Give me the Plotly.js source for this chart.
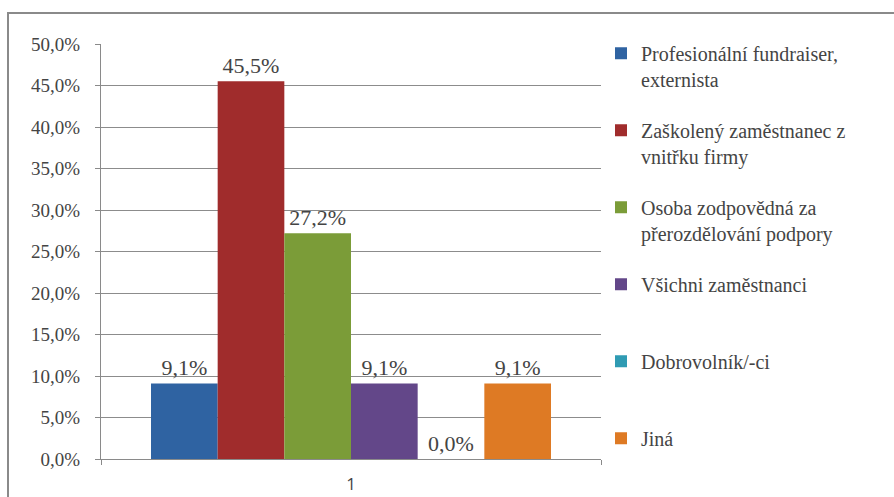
<!DOCTYPE html>
<html>
<head>
<meta charset="utf-8">
<script src="https://cdn.plot.ly/plotly-3.0.1.min.js"></script>
<style>
  html, body { margin: 0; padding: 0; background: #ffffff; overflow: hidden; }
  #wrap { position: relative; width: 894px; height: 497px; }
  #chart { width: 894px; height: 497px; }
  #frame { position: absolute; left: 7px; top: 12px; width: 900px; height: 500px;
           border: 2px solid #8a8a8a; pointer-events: none; box-sizing: border-box; }
</style>
</head>
<body>
<div id="wrap">
  <div id="chart"></div>
  <div id="frame"></div>
</div>
<script>
const categories = ['1'];
const seriesNames = [
  'Profesionální fundraiser,<br>externista',
  'Zaškolený zaměstnanec z<br>vnitřku firmy',
  'Osoba zodpovědná za<br>přerozdělování podpory',
  'Všichni zaměstnanci<br>\u00a0',
  'Dobrovolník/-ci<br>\u00a0',
  'Jiná<br>\u00a0'
];
const seriesValues = [9.1, 45.5, 27.2, 9.1, 0.0, 9.1];
const yTickStep = 5;

const seriesColors = ['#2f63a2', '#a02c2c', '#7b9c38', '#634789', '#2f9bb3', '#de7a24'];
const fam = 'Liberation Serif';

const traces = seriesNames.map((name, i) => ({
  type: 'bar',
  name: name,
  legendgroup: 'g' + i,
  x: categories,
  y: [seriesValues[i]],
  marker: { color: seriesColors[i], line: { width: 0 } },
  texttemplate: '%{y:.1f}%',
  textposition: 'outside',
  cliponaxis: false,
  textfont: { size: 22 },
  hoverinfo: 'skip'
}));

const layout = {
  width: 894,
  height: 497,
  margin: { l: 101, r: 293, t: 44, b: 38 },
  paper_bgcolor: '#ffffff',
  plot_bgcolor: '#ffffff',
  font: { family: fam },
  barmode: 'group',
  bargap: 0.2,
  bargroupgap: 0,
  separators: ', ',
  showlegend: true,
  legend: {
    x: 1.0,
    xanchor: 'left',
    y: 1.025,
    yanchor: 'top',
    valign: 'top',
    tracegroupgap: 22,
    maxheight: 490,
    font: { size: 20 },
    bgcolor: 'rgba(0,0,0,0)'
  },
  xaxis: {
    type: 'category',
    showline: true,
    linecolor: '#8a8a8a',
    linewidth: 1,
    ticks: 'outside',
    tickson: 'boundaries',
    ticklen: 5,
    tickcolor: '#8a8a8a',
    ticklabelstandoff: 10,
    tickfont: { family: 'Open Sans', size: 17 },
    showgrid: false,
    zeroline: false
  },
  yaxis: {
    range: [0, 50],
    tickmode: 'linear',
    tick0: 0,
    dtick: yTickStep,
    tickformat: '.1f',
    ticksuffix: '%',
    showline: true,
    linecolor: '#8a8a8a',
    linewidth: 1,
    ticks: 'outside',
    ticklen: 5,
    tickcolor: '#8a8a8a',
    ticklabelstandoff: 11,
    gridcolor: '#8c8c8c',
    gridwidth: 1,
    zeroline: false,
    tickfont: { size: 19 }
  }
};

Plotly.newPlot('chart', traces, layout, { displayModeBar: false, staticPlot: true });
</script>
</body>
</html>
